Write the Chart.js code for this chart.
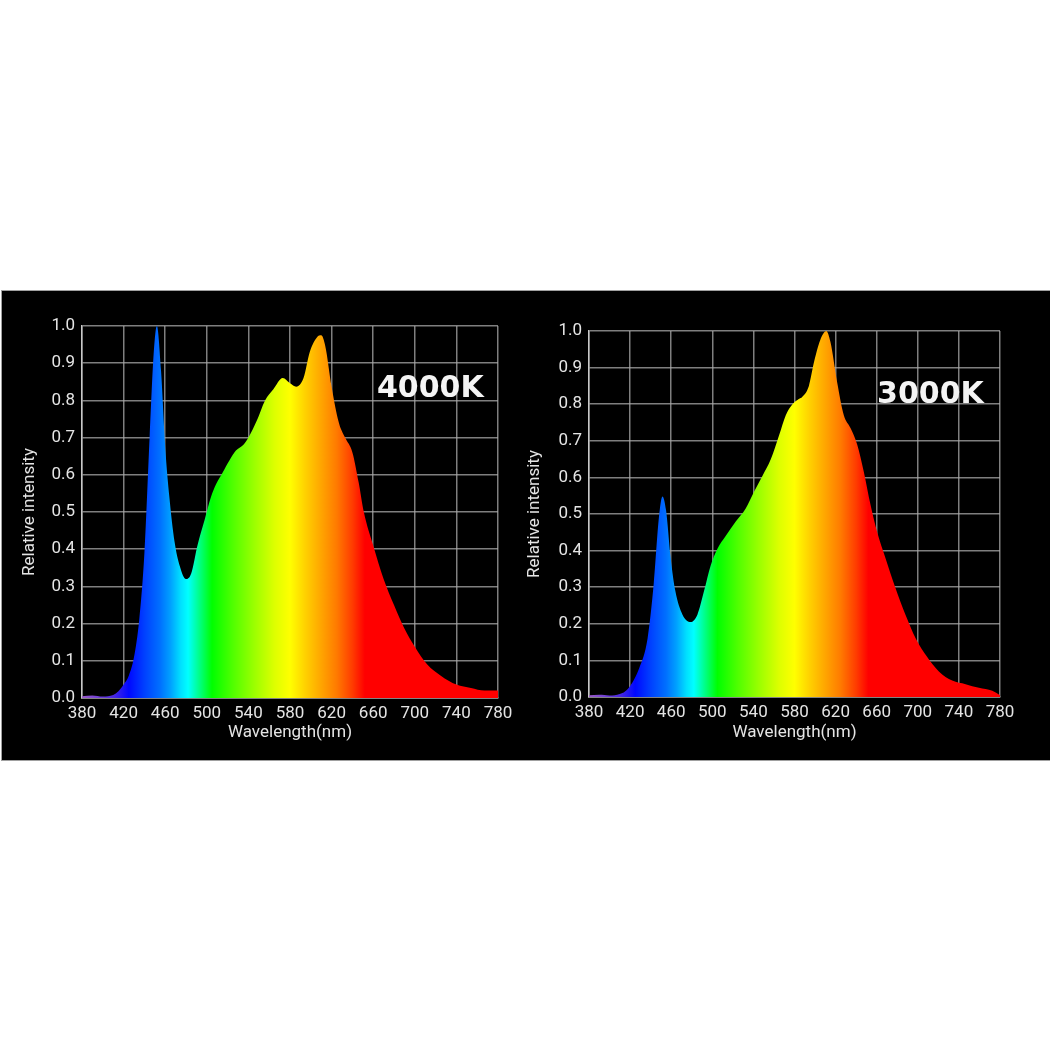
<!DOCTYPE html>
<html>
<head>
<meta charset="utf-8">
<title>Spectrum 4000K / 3000K</title>
<script src="https://cdn.jsdelivr.net/npm/chart.js@4.4.1/dist/chart.umd.min.js"></script>
<style>
  html, body { margin: 0; padding: 0; background: #fff; }
  body { width: 1050px; height: 1050px; position: relative; overflow: hidden; }
  #panel { position: absolute; left: 1px; top: 290px; width: 1049px; height: 469px; background: #000; border: 1px solid #a0a0a0; border-right: none; }
  .chart-box { position: absolute; top: 291px; height: 470px; }
  #box4000 { left: 0; width: 530px; }
  #box3000 { left: 505px; width: 545px; }
</style>
</head>
<body>
<div id="panel"></div>
<div class="chart-box" id="box4000"><canvas id="chart4000" width="530" height="470"></canvas></div>
<div class="chart-box" id="box3000"><canvas id="chart3000" width="545" height="470"></canvas></div>
<script>
// valores
const wavelengthTicks = [380, 420, 460, 500, 540, 580, 620, 660, 700, 740, 780];
const intensityTicks = [0.0, 0.1, 0.2, 0.3, 0.4, 0.5, 0.6, 0.7, 0.8, 0.9, 1.0];

const wavelengths4000 = [380, 390, 400, 410, 415, 420, 425, 430, 435, 440, 445, 449, 452, 456, 460, 464, 469, 474, 480, 485, 491, 498, 504, 509, 515, 522, 528, 535, 540, 548, 556, 564, 573, 580, 586, 593, 599, 606, 610, 614, 620, 627, 633, 640, 646, 651, 660, 670, 680, 690, 700, 712, 725, 740, 754, 767, 780];
const intensity4000 = [0.005, 0.007, 0.004, 0.008, 0.018, 0.036, 0.06, 0.11, 0.21, 0.39, 0.70, 0.93, 1.0, 0.88, 0.675, 0.54, 0.42, 0.355, 0.32, 0.335, 0.41, 0.48, 0.54, 0.575, 0.605, 0.64, 0.665, 0.68, 0.70, 0.745, 0.80, 0.83, 0.86, 0.846, 0.837, 0.86, 0.93, 0.97, 0.975, 0.945, 0.837, 0.74, 0.70, 0.66, 0.58, 0.50, 0.41, 0.32, 0.25, 0.187, 0.138, 0.09, 0.06, 0.036, 0.027, 0.02, 0.02];

const wavelengths3000 = [380, 390, 400, 410, 415, 420, 429, 437, 443, 448, 451.5, 455, 459.5, 464, 471, 479, 485.5, 492, 498.5, 505, 513, 523, 532.5, 540.5, 549, 557, 565, 571.5, 578, 584.5, 587.5, 594, 599, 605, 611, 615, 621.5, 628, 634.5, 641, 647.5, 654, 660.5, 668.5, 678, 688, 698, 709, 720.5, 733.5, 746.5, 759.5, 772.5, 780];
const intensity3000 = [0.005, 0.006, 0.004, 0.008, 0.015, 0.03, 0.08, 0.16, 0.31, 0.49, 0.548, 0.51, 0.38, 0.29, 0.225, 0.205, 0.225, 0.29, 0.36, 0.405, 0.44, 0.48, 0.515, 0.56, 0.605, 0.65, 0.715, 0.77, 0.80, 0.815, 0.82, 0.85, 0.915, 0.975, 1.0, 0.97, 0.86, 0.77, 0.735, 0.69, 0.615, 0.525, 0.45, 0.38, 0.30, 0.225, 0.16, 0.11, 0.07, 0.045, 0.035, 0.025, 0.017, 0.005];

const label4000 = '4000K';
const label3000 = '3000K';

// cores do espectro visível (estilo, não dados)
const spectrumStops = [
  [380, '#9a5ac8'], [410, '#4a28e0'], [425, '#0008ff'], [440, '#0040ff'], [455, '#0070ff'],
  [465, '#00a0ff'], [475, '#00e0ff'], [482, '#00ffff'], [492, '#00ff90'], [505, '#00ff00'],
  [525, '#50ff00'], [545, '#99ff00'], [565, '#ddff00'], [580, '#ffff00'], [595, '#ffd000'],
  [610, '#ffa500'], [625, '#ff7a00'], [640, '#ff3c00'], [652, '#ff0000'], [780, '#ff0000']
];

const tickFont = { family: 'Roboto', size: 17 };
const titleFont = { family: 'Roboto', size: 17 };

function spectrumFill(context) {
  const chart = context.chart;
  const x = chart.scales.x;
  if (!chart.chartArea || !x) return '#ff0000';
  const x0 = x.getPixelForValue(380);
  const x1 = x.getPixelForValue(780);
  const g = chart.ctx.createLinearGradient(x0, 0, x1, 0);
  spectrumStops.forEach(([nm, color]) => g.addColorStop((nm - 380) / 400, color));
  return g;
}

const cornerLabel = {
  id: 'cornerLabel',
  afterDatasetsDraw(chart, args, opts) {
    const { ctx, scales } = chart;
    ctx.save();
    ctx.font = 'bold 30px "DejaVu Sans"';
    ctx.fillStyle = '#f4f4f4';
    ctx.textAlign = 'left';
    ctx.textBaseline = 'alphabetic';
    ctx.fillText(opts.text, scales.x.getPixelForValue(opts.x), scales.y.getPixelForValue(opts.y));
    ctx.restore();
  }
};

function buildChart(canvasId, wavelengths, intensity, label, box) {
  const ctx = document.getElementById(canvasId).getContext('2d');
  return new Chart(ctx, {
    type: 'line',
    data: {
      datasets: [{
        label: label,
        data: wavelengths.map((w, i) => ({ x: w, y: intensity[i] })),
        fill: 'origin',
        backgroundColor: spectrumFill,
        borderWidth: 0,
        pointRadius: 0,
        cubicInterpolationMode: 'monotone'
      }]
    },
    options: {
      responsive: false,
      animation: false,
      devicePixelRatio: 1,
      layout: { padding: { top: box.top, right: box.right, left: 0, bottom: 0 } },
      scales: {
        x: {
          type: 'linear',
          min: 380,
          max: 780,
          afterBuildTicks: s => { s.ticks = wavelengthTicks.map(v => ({ value: v })); },
          afterFit: s => { s.height = box.xHeight; s.paddingLeft = 0; s.paddingRight = 0; },
          grid: { color: 'rgba(170,170,170,0.75)', lineWidth: 1.5, drawTicks: false },
          border: { color: '#c8c8c8', width: 1.5 },
          ticks: { color: '#e4e4e4', font: tickFont, padding: 6, maxRotation: 0, autoSkip: false },
          title: { display: true, text: 'Wavelength(nm)', color: '#e4e4e4', font: titleFont, padding: { top: 0, bottom: 18 } }
        },
        y: {
          min: 0,
          max: 1,
          afterBuildTicks: s => { s.ticks = intensityTicks.map(v => ({ value: v })); },
          afterFit: s => { s.width = box.yWidth; s.paddingTop = 0; s.paddingBottom = 0; },
          grid: { color: 'rgba(170,170,170,0.75)', lineWidth: 1.5, drawTicks: false },
          border: { color: '#c8c8c8', width: 1.5 },
          ticks: { color: '#e4e4e4', font: tickFont, padding: 7, callback: v => v.toFixed(1) },
          title: { display: true, text: 'Relative intensity', color: '#e4e4e4', font: titleFont, padding: { top: 20, bottom: 0 } }
        }
      },
      plugins: {
        legend: { display: false },
        tooltip: { enabled: false },
        cornerLabel: { text: label, x: box.labelX, y: box.labelY }
      }
    },
    plugins: [cornerLabel]
  });
}

if (typeof Chart === 'undefined') {
  console.error('Chart.js não foi carregado.');
} else {
  buildChart('chart4000', wavelengths4000, intensity4000, label4000,
    { top: 35, right: 32, xHeight: 63, yWidth: 82, labelX: 663.6, labelY: 0.81 });
  buildChart('chart3000', wavelengths3000, intensity3000, label3000,
    { top: 40, right: 50, xHeight: 64, yWidth: 84, labelX: 660.3, labelY: 0.803 });
}
</script>
</body>
</html>
